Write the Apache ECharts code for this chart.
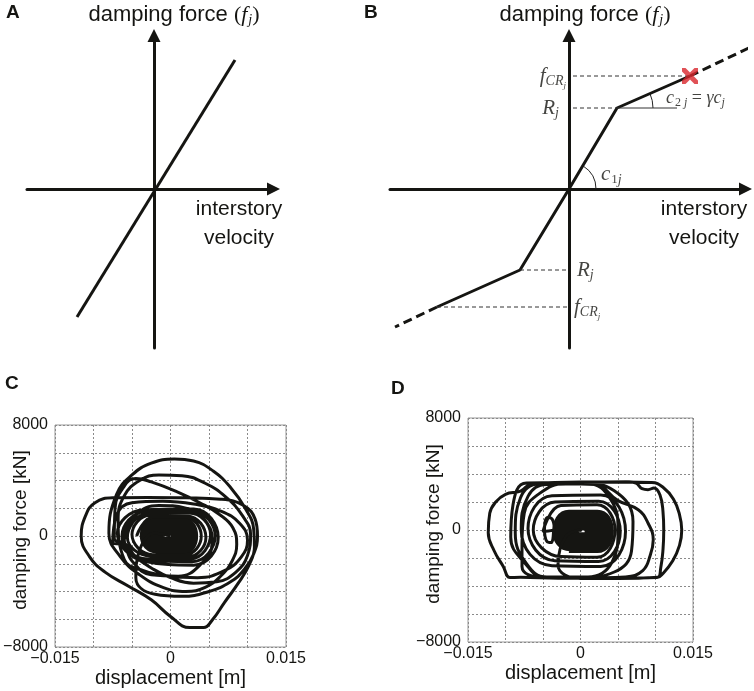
<!DOCTYPE html>
<html><head><meta charset="utf-8">
<script src="https://cdn.jsdelivr.net/npm/echarts@6/dist/echarts.min.js"></script>
<style>html,body{margin:0;padding:0;background:#fff}#c{width:754px;height:691px}</style>
</head><body><div id="c"></div>
<script>
// ---------- Panel A (schematic, arbitrary units) ----------
const A_xDomain = [-1.27, 1.195];
const A_yDomain = [-1.59, 1.535];
const A_line = [[-0.77, -1.28], [0.81, 1.29]];

// ---------- Panel B (schematic, arbitrary units) ----------
const B_xDomain = [-1.79, 1.765];
const B_yDomain = [-1.59, 1.535];
const B_solid = [[-1.32, -1.18], [-0.49, -0.81], [0, 0], [0.48, 0.81], [1.21, 1.13]];
const B_dashUp = [[1.21, 1.13], [1.82, 1.42]];
const B_dashDown = [[-1.32, -1.18], [-1.74, -1.38]];
const B_refDashed = [
  [[0.04, 1.13], [1.21, 1.13]],
  [[0.04, 0.81], [0.48, 0.81]],
  [[-0.49, -0.81], [-0.02, -0.81]],
  [[-1.32, -1.18], [-0.02, -1.18]]
];
const B_refSolid = [[0.48, 0.81], [1.08, 0.81]];
const B_arcs = [[0, 0, 0.27, 0, 58], [0.48, 0.81, 0.36, 0, 24]]; // cx, cy, r, fromDeg, toDeg
const B_cross = [[1.21, 1.13]];
const B_labelAt = { fcrUp: [0, 1.13], rUp: [0, 0.81], c2: [0.48, 0.81], c1: [0, 0], rDown: [0, -0.81], fcrDown: [0, -1.18] };

// ---------- Panels C / D (displacement in mm, force in kN) ----------
const dispTicks = [-0.015, 0, 0.015];
const forceTicks = [-8000, 0, 8000];

const C_blob = [
  [-0.7,0],[-0.45,220],[0.05,220],[0.3,0],[0.05,-220],[-0.45,-220],
  [-1.2,0],[-0.7,390],[0.3,390],[0.8,0],[0.3,-390],[-0.7,-390],
  [-1.7,0],[-0.95,570],[0.55,570],[1.3,0],[0.55,-570],[-0.95,-570],
  [-2.2,0],[-1.2,740],[0.8,740],[1.8,0],[0.8,-740],[-1.2,-740],
  [-2.7,0],[-1.45,910],[1.05,910],[2.3,0],[1.05,-910],[-1.45,-910],
  [-3.2,0],[-1.7,1090],[1.3,1090],[2.8,0],[1.3,-1090],[-1.7,-1090],
  [-3.7,0],[-1.95,1220],[1.55,1220],[3.3,0],[1.55,-1220],[-1.95,-1220]
];
const C_mid = [
  [-4.4,0],[-2.3,1350],[1.9,1350],[4.0,0],[1.9,-1350],[-2.3,-1350],
  [-5.0,100],[-2.6,1500],[2.2,1450],[4.6,-100],[2.2,-1500],[-2.6,-1450],
  [-5.6,-100],[-3.0,1600],[2.4,1650],[5.2,100],[2.6,-1650],[-3.0,-1650],
  [-6.3,0],[-3.3,1750],[2.8,1800],[5.8,0],[2.8,-1850],[-3.3,-1750],
  [-6.9,200],[-3.5,1900],[3.0,1950],[6.2,-100],[3.0,-2100],[-3.6,-1800],
  [-6.0,-300],[-4.5,1500],[-1.5,2200],[2.0,2000],[4.8,900],[5.4,-500],[4.0,-2000],[1.0,-2900],[-2.5,-2800],[-5.0,-1800],[-6.2,-600]
];
const C_loops = [
  [-7.5,-500],[-7.0,1500],[-5.0,2400],[-1.0,2500],[3.0,2300],[6.5,1800],[9.0,900],[10.0,-300],[9.2,-1500],[7.0,-2500],[3.5,-3000],[0.0,-2900],[-3.5,-2500],[-6.0,-1700],
  [-6.8,1200],[-6.0,2900],[-4.0,4000],[-1.5,4400],[1.5,4350],[4.5,3800],[7.2,2800],[9.3,1500],[10.4,100],[10.0,-1400],[8.5,-2600],[6.0,-3300],[3.0,-3400],[0.0,-3000],[-2.5,-2300],[-4.5,-1500],[-6.0,-500],
  [-7.3,-200],[-7.2,2000],[-6.0,3600],[-4.5,4150],[-2.5,3900],[0.8,3200],[3.8,2400],[6.5,1500],[8.1,600],[8.6,-600],[8.0,-1800],[6.5,-2900],[4.5,-3700],[2.0,-4000],[-1.0,-3700],[-4.0,-2800],[-6.5,-1500],
  [-8.0,200],[-7.0,3000],[-5.0,4400],[-2.5,5250],[0.5,5550],[3.0,5400],[5.5,4700],[7.8,3500],[9.7,2000],[10.8,500],[10.9,-800],[10.2,-2100],[8.8,-3400],[7.0,-4800],[5.5,-6000],[4.3,-6600],[2.5,-6600],[0.0,-5800],[-2.5,-4600],[-5.5,-3600],
  [-8.5,-2600],[-10.5,-1500],[-11.6,0],[-11.0,1500],[-9.8,2400],[-7.5,2750],[-3.0,2780],[2.0,2750],[6.5,2650],[9.5,2200],[11.0,1200],[11.3,0],[10.8,-1300],[9.6,-2400],[7.8,-3300],[5.0,-4000],[1.5,-4350],[-2.0,-4200],[-4.5,-3000],[-4.0,-1000],[-2.0,200],[0.0,0]
];

const D_blob = [
  [-0.15,-100],[0.1,120],[0.6,120],[0.85,-100],[0.6,-320],[0.1,-320],
  [-0.65,-100],[-0.15,290],[0.85,290],[1.35,-100],[0.85,-490],[-0.15,-490],
  [-1.15,-100],[-0.4,465],[1.1,465],[1.85,-100],[1.1,-665],[-0.4,-665],
  [-1.65,-100],[-0.65,640],[1.35,640],[2.35,-100],[1.35,-840],[-0.65,-840],
  [-2.15,-100],[-0.9,815],[1.6,815],[2.85,-100],[1.6,-1015],[-0.9,-1015],
  [-2.65,-100],[-1.15,990],[1.85,990],[3.35,-100],[1.85,-1190],[-1.15,-1190],
  [-3.15,-100],[-1.4,1160],[2.1,1160],[3.85,-100],[2.1,-1360],[-1.4,-1360],
  [-3.45,-100],[-1.55,1290],[2.25,1290],[4.15,-100],[2.25,-1490],[-1.55,-1490]
];
const D_mid = [
  [-3.6,0],[-3.9,-900],[-4.5,-800],[-4.8,0],[-4.4,900],[-3.8,800],[-3.5,100],
  [-5.0,-100],[-2.6,1750],[2.2,1800],[4.6,0],[2.2,-1950],[-2.6,-1900],
  [-6.3,0],[-3.4,2000],[2.4,2050],[5.3,-100],[2.4,-2250],[-3.4,-2200],
  [-7.0,100],[-3.8,2450],[2.7,2500],[6.0,-100],[2.7,-2600],[-3.8,-2550],
  [-7.9,0],[-7.0,2400],[-4.5,3250],[1.0,3300],[4.0,2200],[5.0,0],[4.2,-2300],[1.0,-3350],[-4.5,-3350],[-7.2,-2400],
  [-8.7,-200],[-8.0,2300],[-5.5,3300],[0,3350],[4.5,2800],[7.0,600],[6.8,-1500],[4.5,-3000],[0,-3400],[-5,-3400],[-7.8,-2600]
];
const D_loops = [
  [-7.8,-1000],[-7.5,1200],[-5.5,2600],[-2.0,3300],[1.9,3250],[5.0,2100],[7.7,1450],[9.0,500],[9.7,-700],[9.3,-1800],[8.3,-2900],[6,-3350],[0,-3420],[-5,-3350],[-7.2,-2500],
  [-9.3,-500],[-9.0,1800],[-7.2,3350],[0,3400],[6.5,3420],[7.4,3350],[8.2,2950],[9.0,2880],[9.8,3000],[10.6,2500],[11.0,1300],[11.1,0],[11.0,-1400],[10.7,-2700],[10.3,-3380],[4,-3450],[-3,-3450],[-8.0,-3380],
  [-9.4,-3400],[-10.3,-2600],[-11.5,-1500],[-12.3,-200],[-12.1,1200],[-11.3,2000],[-10.0,2550],[-8.0,2780],[-6.5,3300],[0,3420],[6,3420],[9.5,3400],[11.0,3050],[12.4,2200],[13.2,1100],[13.5,0],[13.2,-1100],[12.3,-2200],[11.0,-3100],[10.2,-3400],[5,-3460],[0,-3460],[-3,-2500],[-2,-500],[0,0]
];

const toM = arr => arr.map(p => [p[0] / 1000, p[1]]);

// ---------- styling helpers ----------
const INK = '#151512';
const SANS = 'Liberation Sans';
const SERIF = 'Liberation Serif';

const mathRich = {
  i: { fontFamily: SERIF, fontStyle: 'italic', fontSize: 18, color: INK },
  m: { fontFamily: SERIF, fontSize: 18, color: INK },
  s: { fontFamily: SERIF, fontStyle: 'italic', fontSize: 12, color: INK, padding: [10, 0, 0, 0] },
  n: { fontFamily: SERIF, fontSize: 12, color: INK, padding: [10, 0, 0, 1] },
  I: { fontFamily: SERIF, fontStyle: 'italic', fontSize: 21, color: INK },
  S: { fontFamily: SERIF, fontStyle: 'italic', fontSize: 14, color: INK, padding: [11, 0, 0, 0] },
  N: { fontFamily: SERIF, fontSize: 13, color: INK, padding: [10, 0, 0, 1] },
  SS: { fontFamily: SERIF, fontStyle: 'italic', fontSize: 9, color: INK, padding: [19, 0, 0, 0] }
};
const titleRich = {
  a: { fontFamily: SANS, fontSize: 22, color: INK },
  p: { fontFamily: SERIF, fontSize: 22, color: INK },
  i: { fontFamily: SERIF, fontStyle: 'italic', fontSize: 22, color: INK },
  sub: { fontFamily: SERIF, fontStyle: 'italic', fontSize: 14, color: INK, padding: [11, 0, 0, 1] }
};
const fTitle = '{a|damping force }{p|(}{i|f}{sub|j}{p|)}';

function schematicAxes(gridIndex, xd, yd, xNameGap, yPad) {
  const line = { onZero: true, symbol: ['none', 'triangle'], symbolSize: [13, 13], lineStyle: { color: INK, width: 3 } };
  return {
    x: {
      type: 'value', gridIndex, min: xd[0], max: xd[1],
      axisLine: line, axisTick: { show: false }, axisLabel: { show: false }, splitLine: { show: false },
      name: 'interstory\nvelocity', nameLocation: 'end', nameGap: xNameGap, nameMoveOverlap: false,
      nameTextStyle: { fontFamily: SANS, fontSize: 21, lineHeight: 29, color: INK, align: 'center', verticalAlign: 'top', padding: [6, 0, 0, 0] }
    },
    y: {
      type: 'value', gridIndex, min: yd[0], max: yd[1],
      axisLine: line, axisTick: { show: false }, axisLabel: { show: false }, splitLine: { show: false },
      name: fTitle, nameLocation: 'end', nameGap: 8, nameMoveOverlap: false,
      nameTextStyle: { rich: titleRich, align: 'center', padding: [0, 0, 0, yPad] }
    }
  };
}

function tickText(list, v, eps) {
  const t = list.find(d => Math.abs(d - v) < eps);
  if (t === undefined) return '';
  return t === 0 ? '0' : (t < 0 ? '\u2212' + String(-t) : String(t));
}

function plotAxes(gridIndex) {
  const grid = { show: true, lineStyle: { color: '#8a8a8a', width: 1, type: [2, 2] } };
  return {
    x: {
      type: 'value', gridIndex, min: -0.015, max: 0.015, interval: 0.005,
      axisLine: { show: false }, axisTick: { show: false }, splitLine: grid,
      axisLabel: { margin: 4, fontFamily: SANS, fontSize: 16, color: INK, showMinLabel: true, showMaxLabel: true,
        formatter: v => tickText(dispTicks, v, 1e-9) },
      name: 'displacement [m]', nameLocation: 'middle', nameGap: 21, nameMoveOverlap: false,
      nameTextStyle: { fontFamily: SANS, fontSize: 20, color: INK }
    },
    y: {
      type: 'value', gridIndex, min: -8000, max: 8000, interval: 2000,
      axisLine: { show: false }, axisTick: { show: false }, splitLine: grid,
      axisLabel: { margin: 7, fontFamily: SANS, fontSize: 16, color: INK, showMinLabel: true, showMaxLabel: true,
        formatter: v => tickText(forceTicks, v, 1e-6) },
      name: 'damping force [kN]', nameLocation: 'middle', nameGap: 25, nameMoveOverlap: false,
      nameTextStyle: { fontFamily: SANS, fontSize: 19, color: INK, padding: [0, 0, 0, 12] }
    }
  };
}

const aAx = schematicAxes(0, A_xDomain, A_yDomain, -34.5, 40);
const bAx = schematicAxes(1, B_xDomain, B_yDomain, -41.5, 32);
const cAx = plotAxes(2);
const dAx = plotAxes(3);

const solid = (xi, data, w, extra) => Object.assign({
  type: 'line', xAxisIndex: xi, yAxisIndex: xi, data, symbol: 'none', silent: true, clip: false,
  lineStyle: { color: INK, width: w }
}, extra || {});

const series = [
  solid(0, A_line, 3),
  solid(1, B_solid, 3),
  solid(1, B_dashUp, 3, { lineStyle: { color: INK, width: 3, type: [9, 5] } }),
  solid(1, B_dashDown, 3, { lineStyle: { color: INK, width: 3, type: [9, 5] } }),
  ...B_refDashed.map(seg => solid(1, seg, 1, { lineStyle: { color: '#333', width: 1, type: [4, 3] } })),
  solid(1, B_refSolid, 1, { lineStyle: { color: '#333', width: 1 } }),
  {
    type: 'custom', xAxisIndex: 1, yAxisIndex: 1, data: B_arcs, silent: true, clip: false,
    renderItem: (params, api) => {
      const c = api.coord([api.value(0), api.value(1)]);
      const r = api.size([api.value(2), 0])[0];
      const a0 = api.value(3) * Math.PI / 180, a1 = api.value(4) * Math.PI / 180;
      return { type: 'arc', shape: { cx: c[0], cy: c[1], r, startAngle: -a1, endAngle: -a0, clockwise: true },
        style: { stroke: '#222', fill: null, lineWidth: 1 } };
    }
  },
  {
    type: 'scatter', xAxisIndex: 1, yAxisIndex: 1, data: B_cross, silent: true, z: 5,
    symbol: 'path://M0,0 L2.2,0 L5,2.8 L7.8,0 L10,0 L10,2.2 L7.2,5 L10,7.8 L10,10 L7.8,10 L5,7.2 L2.2,10 L0,10 L0,7.8 L2.8,5 L0,2.2 Z',
    symbolSize: 16, itemStyle: { color: '#d8262c' }
  },
  {
    type: 'scatter', xAxisIndex: 1, yAxisIndex: 1, symbolSize: 0, silent: true,
    label: { show: true, rich: mathRich, color: INK },
    data: [
      { value: B_labelAt.fcrUp, label: { formatter: '{I|f}{S|CR}{SS|j}', position: 'left', distance: 3 } },
      { value: B_labelAt.rUp, label: { formatter: '{I|R}{S|j}', position: 'left', distance: 10 } },
      { value: B_labelAt.c2, label: { formatter: '{i|c}{n|2}{s| j}{m| = }{i|γc}{s|j}', position: [49, -21] } },
      { value: B_labelAt.c1, label: { formatter: '{I|c}{N|1}{S|j}', position: [32, -27] } },
      { value: B_labelAt.rDown, label: { formatter: '{I|R}{S|j}', position: 'right', distance: 8 } },
      { value: B_labelAt.fcrDown, label: { formatter: '{I|f}{S|CR}{SS|j}', position: 'right', distance: 5 } }
    ]
  },
  solid(2, toM(C_blob), 4.5, { smooth: 0.5, clip: true }),
  solid(2, toM([].concat(C_mid, C_loops)), 3, { smooth: 0.45, clip: true }),
  solid(3, toM(D_blob), 4.5, { smooth: 0.5, clip: true }),
  solid(3, toM([].concat(D_mid, D_loops)), 3, { smooth: 0.45, clip: true })
];

const letter = (t, left, top) => ({ text: t, left, top, padding: 0,
  textStyle: { fontFamily: SANS, fontSize: 19, fontWeight: 'bold', color: INK } });

const noBounds = { outerBoundsMode: 'none', containLabel: false };
const option = {
  animation: false,
  backgroundColor: '#fff',
  title: [letter('A', 6, 3), letter('B', 364, 3), letter('C', 5, 374), letter('D', 391, 379)],
  grid: [
    Object.assign({ left: 27, top: 35.5, width: 246.5, height: 312.5 }, noBounds),
    Object.assign({ left: 390, top: 35.5, width: 355.5, height: 312.5 }, noBounds),
    Object.assign({ left: 55, top: 425, width: 231, height: 222, show: true, borderColor: '#999', borderWidth: 1, backgroundColor: 'transparent' }, noBounds),
    Object.assign({ left: 468, top: 418, width: 225, height: 224, show: true, borderColor: '#999', borderWidth: 1, backgroundColor: 'transparent' }, noBounds)
  ],
  xAxis: [aAx.x, bAx.x, cAx.x, dAx.x],
  yAxis: [aAx.y, bAx.y, cAx.y, dAx.y],
  series
};

const chart = echarts.init(document.getElementById('c'), null, { renderer: 'canvas' });
chart.setOption(option);
</script>
</body></html>
